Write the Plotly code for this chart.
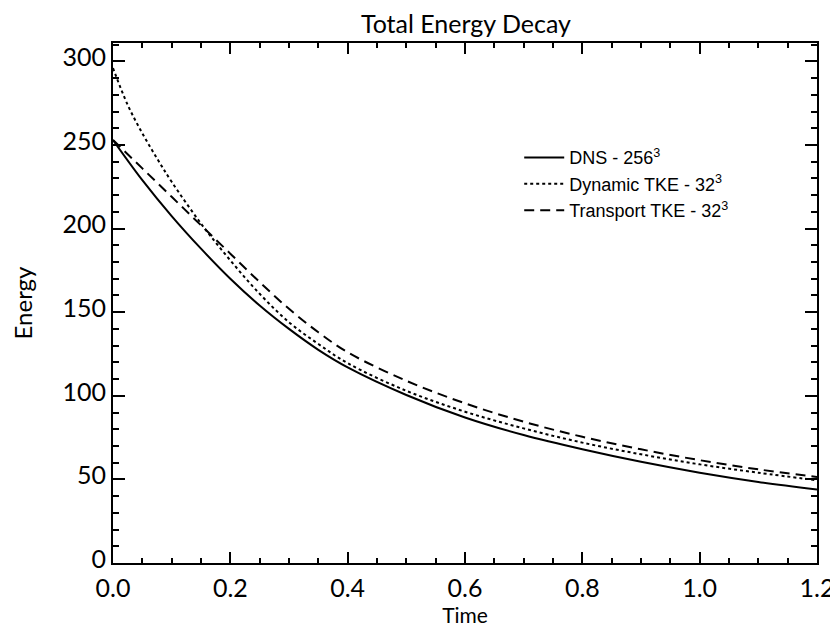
import plotly.graph_objects as go

# Data
t_dns = [0.0, 0.05, 0.1, 0.15, 0.2, 0.25, 0.3, 0.35, 0.4, 0.5, 0.6, 0.7, 0.8, 0.9, 1.0, 1.1, 1.2]
e_dns = [253, 229, 207.5, 188, 170, 154, 140, 127.5, 117, 100.5, 87, 76.5, 68, 60.5, 54, 48.5, 44]

t_dyn = [0.0, 0.025, 0.05, 0.075, 0.1, 0.15, 0.2, 0.25, 0.3, 0.35, 0.4, 0.5, 0.6, 0.7, 0.8, 0.9, 1.0, 1.1, 1.2]
e_dyn = [296, 274, 257, 242, 228, 203, 181, 161, 144, 131, 119.5, 103, 90.5, 80.5, 72, 65, 59, 54, 49.5]

t_trn = [0.0, 0.05, 0.1, 0.15, 0.2, 0.25, 0.3, 0.35, 0.4, 0.5, 0.6, 0.7, 0.8, 0.9, 1.0, 1.1, 1.2]
e_trn = [253, 236, 219, 202, 185, 168, 152, 138, 126, 109, 95.5, 84.5, 75.5, 68, 61.5, 56, 51.5]

names = ["DNS - 256<sup>3</sup>", "Dynamic TKE - 32<sup>3</sup>", "Transport TKE - 32<sup>3</sup>"]
x_ticks = [0.0, 0.2, 0.4, 0.6, 0.8, 1.0, 1.2]
x_tick_text = ["0.0", "0.2", "0.4", "0.6", "0.8", "1.0", "1.2"]
y_ticks = [0, 50, 100, 150, 200, 250, 300]

fig = go.Figure()
fig.add_trace(go.Scatter(x=t_dns, y=e_dns, mode="lines", name=names[0],
                         line=dict(color="black", width=2, dash="solid", shape="spline", smoothing=1.0)))
fig.add_trace(go.Scatter(x=t_dyn, y=e_dyn, mode="lines", name=names[1],
                         line=dict(color="black", width=2, dash="dot", shape="spline", smoothing=1.0)))
fig.add_trace(go.Scatter(x=t_trn, y=e_trn, mode="lines", name=names[2],
                         line=dict(color="black", width=2, dash="10px,6px", shape="spline", smoothing=1.0)))

FAM = "Lato"
hershey = dict(family=FAM, size=25, color="black", weight=400)

fig.update_layout(
    width=838, height=631,
    margin=dict(l=93, r=20, t=35, b=76),
    paper_bgcolor="white", plot_bgcolor="white",
    title=dict(text="Total Energy Decay", x=0.5465, xanchor="center", y=0.975, yanchor="middle",
               font=dict(family=FAM, size=25, color="black", weight=400)),
    showlegend=True,
    legend=dict(x=0.577, y=0.815, xanchor="left", yanchor="top",
                font=dict(family="Liberation Sans", size=18, color="black"),
                bgcolor="rgba(0,0,0,0)", tracegroupgap=0, itemwidth=40),
    xaxis=dict(range=[0, 1.2], tickvals=x_ticks, ticktext=x_tick_text, ticklabelstandoff=2,
               ticks="inside", ticklen=11, tickwidth=1.5, tickcolor="black",
               showline=True, linecolor="black", linewidth=2, mirror="allticks",
               showgrid=False, zeroline=False, tickfont=hershey,
               minor=dict(dtick=0.05, ticks="inside", ticklen=5, tickwidth=1.5, tickcolor="black", showgrid=False),
               title=dict(text="Time", font=dict(family=FAM, size=21, color="black", weight=400), standoff=0)),
    yaxis=dict(range=[0, 311], tickvals=y_ticks, ticklabelshift=-4,
               ticks="inside", ticklen=12, tickwidth=1.5, tickcolor="black",
               showline=True, linecolor="black", linewidth=2, mirror="allticks",
               showgrid=False, zeroline=False, tickfont=hershey,
               minor=dict(dtick=10, ticks="inside", ticklen=6, tickwidth=1.5, tickcolor="black", showgrid=False),
               title=dict(text="Energy", font=dict(family=FAM, size=24, color="black", weight=400), standoff=26)),
)

fig.write_html("out.html")
